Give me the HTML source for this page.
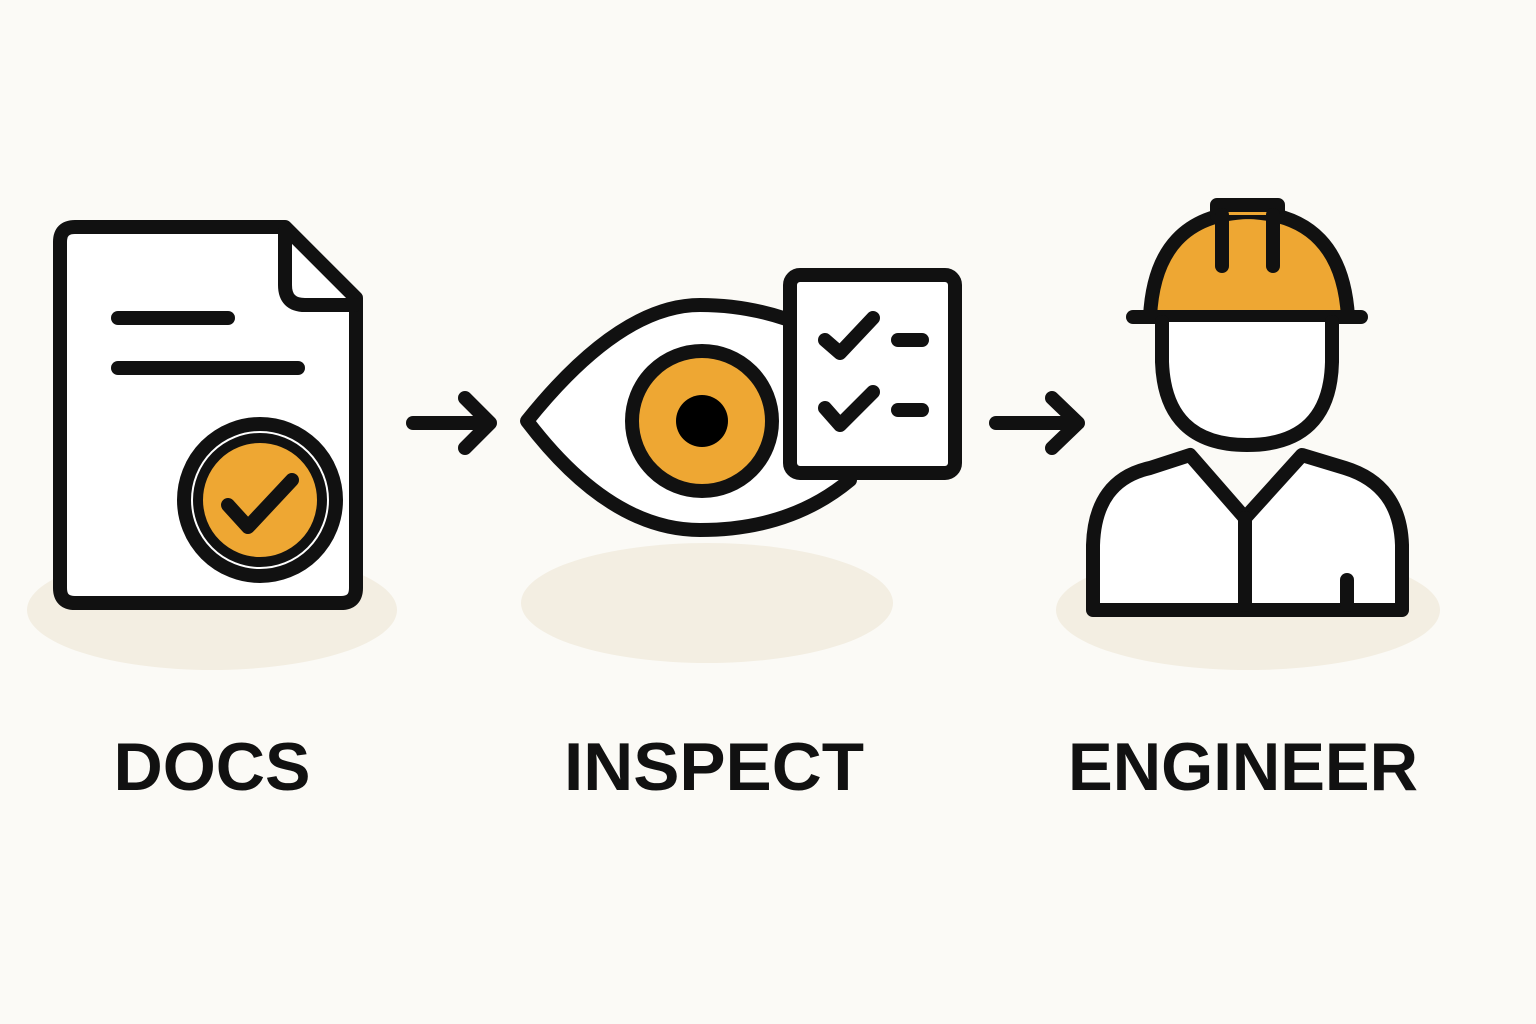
<!DOCTYPE html>
<html><head><meta charset="utf-8"><style>
html,body{margin:0;padding:0;background:#fbfaf6;}
svg{display:block}
text{font-family:"Liberation Sans",sans-serif;font-weight:bold;fill:#111;}
</style></head><body>
<svg width="1536" height="1024" viewBox="0 0 1536 1024" xmlns="http://www.w3.org/2000/svg">
<rect width="1536" height="1024" fill="#fbfaf6"/>
<ellipse cx="212" cy="610" rx="185" ry="60" fill="#f3eee2"/>
<ellipse cx="707" cy="603" rx="186" ry="60" fill="#f3eee2"/>
<ellipse cx="1248" cy="610" rx="192" ry="60" fill="#f3eee2"/>
<g fill="none" stroke="#111" stroke-width="14" stroke-linecap="round" stroke-linejoin="round">
<!-- Doc -->
<path d="M75 227 H285 L356 298 V588 Q356 603 341 603 H75 Q60 603 60 588 V242 Q60 227 75 227 Z" fill="#fff"/>
<path d="M285 230 V285 Q285 305 305 305 H354"/>
<line x1="118" y1="318" x2="228" y2="318"/>
<line x1="118" y1="368" x2="298" y2="368"/>
<circle cx="260" cy="500" r="76" fill="#fff"/>
<circle cx="260" cy="500" r="62" fill="#eea733" stroke-width="10"/>
<path d="M228 505 L248 527 L292 480"/>
<!-- arrow1 -->
<line x1="413" y1="423" x2="488" y2="423"/>
<path d="M465 398 L490 423 L465 448"/>
<!-- eye -->
<path d="M527 421 Q620 305 700 305 Q780 305 850 350 L850 480 Q790 530 700 530 Q610 530 527 421 Z" fill="#fff"/>
<circle cx="702" cy="421" r="70" fill="#eea733"/>
<circle cx="702" cy="421" r="26" fill="#000" stroke="none"/>
<rect x="790" y="275" width="165" height="198" rx="10" fill="#fff"/>
<path d="M825 340 L840 353 L873 318"/>
<path d="M825 408 L840 425 L873 392"/>
<line x1="898" y1="340" x2="922" y2="340"/>
<line x1="898" y1="410" x2="922" y2="410"/>
<!-- arrow2 -->
<line x1="996" y1="423" x2="1076" y2="423"/>
<path d="M1052 398 L1078 423 L1052 448"/>
<!-- engineer -->
<path d="M1150 317 Q1155 215 1248 212 Q1342 215 1348 317 Z" fill="#eea733"/>
<path d="M1217 215 V205 H1278 V215" fill="#eea733"/>
<line x1="1222" y1="215" x2="1222" y2="266"/>
<line x1="1273" y1="215" x2="1273" y2="266"/>
<line x1="1133" y1="317" x2="1361" y2="317"/>
<path d="M1162 322 V362 Q1165 445 1247 445 Q1330 445 1332 362 V322" fill="#fff"/>
<path d="M1093 610 V545 Q1095 480 1150 468 L1190 455 L1245 518 L1302 455 L1345 468 Q1400 485 1402 545 V610 Z" fill="#fff"/>
<line x1="1245" y1="518" x2="1245" y2="605"/>
<line x1="1347" y1="580" x2="1347" y2="605"/>
</g>
<text x="212" y="790" font-size="68" text-anchor="middle" textLength="197" lengthAdjust="spacingAndGlyphs">DOCS</text>
<text x="714" y="790" font-size="68" text-anchor="middle" textLength="300" lengthAdjust="spacingAndGlyphs">INSPECT</text>
<text x="1243" y="790" font-size="68" text-anchor="middle" textLength="350" lengthAdjust="spacingAndGlyphs">ENGINEER</text>
</svg>
</body></html>
